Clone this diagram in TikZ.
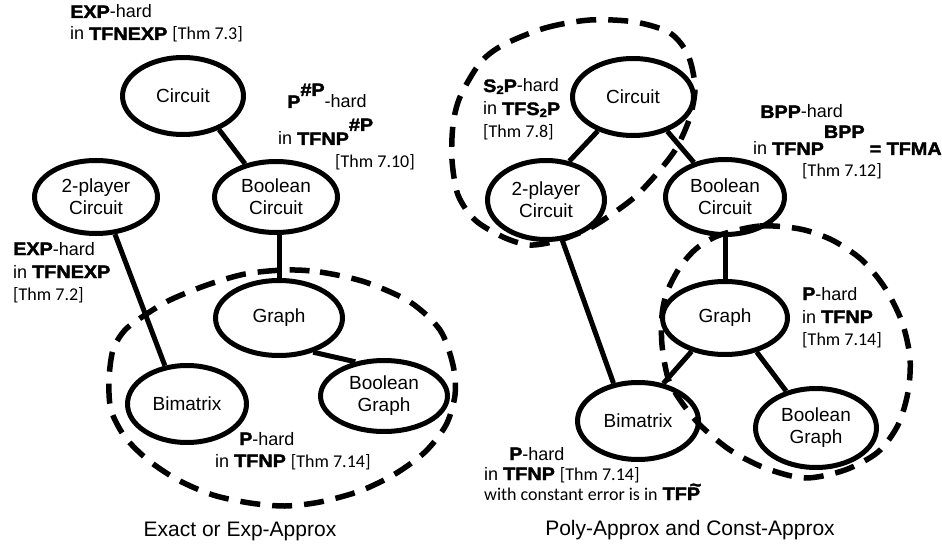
\documentclass[tikz,border=0pt]{standalone}
\usepackage{fontspec}
\usepackage{graphicx}
\setmainfont{Liberation Sans}
\newfontfamily\heavyfont{Liberation Sans}[BoldFeatures={FakeBold=2}]
\newfontfamily\thmfont{Carlito}
\usetikzlibrary{shapes.geometric}
% heavy class names and theorem references
\newcommand\hv[1]{\scalebox{1.1}[1]{\heavyfont\bfseries #1}}
\newcommand\thmtag[1]{{\thmfont #1}}
\tikzset{
  state/.style={draw, ellipse, line width=5pt, inner sep=0pt, align=center,
    font=\fontsize{19}{22}\selectfont},
  link/.style={line width=5pt},
  region/.style={line width=5.5pt, dash pattern=on 20pt off 12pt},
  note/.style={anchor=base west, inner sep=0pt, font=\fontsize{18}{22}\selectfont},
  caption/.style={anchor=base, inner sep=0pt, font=\fontsize{21}{25}\selectfont}
}
\begin{document}
\begin{tikzpicture}[x=1pt,y=-1pt]
\useasboundingbox (0,0) rectangle (942,548);

% ---------- left diagram: Exact or Exp-Approx ----------
\node[state, minimum width=121pt, minimum height=77pt] (lc)  at (183,96)  {Circuit};
\node[state, minimum width=123pt, minimum height=73pt] (l2)  at (96,197)  {2-player\\Circuit};
\node[state, minimum width=123pt, minimum height=71pt] (lbc) at (276,197) {Boolean\\Circuit};
\node[state, minimum width=127pt, minimum height=75pt] (lg)  at (279,318) {Graph};
\node[state, minimum width=119pt, minimum height=77pt] (lb)  at (187,404) {Bimatrix};
\node[state, minimum width=127pt, minimum height=71pt] (lbg) at (384,396) {Boolean\\Graph};

\draw[link] (lc.-43) -- (lbc.133);
\draw[link] (l2.-63) -- (lb.120);
\draw[link] (lg.north) -- (lg.north |- lbc.south);
\draw[link] (lg.-45) -- (lbg.130);

\draw[region] plot[smooth cycle] coordinates {
  (285,270) (320,272) (365,282) (410,302) (440,330) (453,365) (455,395)
  (446,425) (425,452) (395,474) (360,491) (320,502) (285,506) (250,503)
  (213,495) (178,480) (148,460) (125,437) (111,410) (109,380) (113,350)
  (125,330) (145,315) (170,300) (207,285) (245,274)};

\node[note] (a1) at (70,18) {\hv{EXP}-hard};
\node[note] (a2) at (70,40) {in \hv{TFNEXP} \thmtag{[Thm 7.3]}};

\node[note] (b1) at (287,108) {\hv{P}\raisebox{12pt}{\hv{\#P}}-hard};
\node[note] (b2) at (278,145) {in \hv{TFNP}\raisebox{14pt}{\hv{\#P}}};
\node[note] (b3) at (335,168) {\thmtag{[Thm 7.10]}};

\node[note] (c1) at (13,255) {\hv{EXP}-hard};
\node[note] (c2) at (13,278) {in \hv{TFNEXP}};
\node[note] (c3) at (13,300) {\thmtag{[Thm 7.2]}};

\node[note] (d1) at (239,445) {\hv{P}-hard};
\node[note] (d2) at (215,467) {in \hv{TFNP} \thmtag{[Thm 7.14]}};

\node[caption] (cap1) at (240,536) {Exact or Exp-Approx};

% ---------- right diagram: Poly-Approx and Const-Approx ----------
\node[state, minimum width=121pt, minimum height=77pt] (rc)  at (633,97)  {Circuit};
\node[state, minimum width=117pt, minimum height=79pt] (r2)  at (546,200) {2-player\\Circuit};
\node[state, minimum width=119pt, minimum height=75pt] (rbc) at (725,197) {Boolean\\Circuit};
\node[state, minimum width=125pt, minimum height=73pt] (rg)  at (725,318) {Graph};
\node[state, minimum width=121pt, minimum height=77pt] (rb)  at (638,421) {Bimatrix};
\node[state, minimum width=121pt, minimum height=79pt] (rbg) at (816,428) {Boolean\\Graph};

\draw[link] (rc.-136) -- (r2.59);
\draw[link] (rc.-45) -- (rbc.132);
\draw[link] (r2.-68) -- (rb.123);
\draw[link] (rg.north) -- (rg.north |- rbc.south);
\draw[link] (rg.-135) -- (rb.56);
\draw[link] (rg.-47) -- (rbg.129);

\draw[region] plot[smooth cycle] coordinates {
  (503,45) (545,28) (590,20) (635,22) (670,33) (688,55) (695,87) (690,117)
  (677,147) (660,170) (637,195) (615,212) (590,228) (560,240) (530,245)
  (503,237) (475,220) (458,195) (452,160) (453,125) (460,97) (480,63)};

\draw[region] plot[smooth cycle] coordinates {
  (720,235) (760,226) (800,229) (832,240) (862,260) (885,288) (902,322)
  (910,358) (908,392) (898,425) (878,452) (845,470) (805,478) (765,468)
  (730,450) (700,425) (680,400) (668,378) (662,345) (662,315) (667,292)
  (680,267) (697,248)};

\node[note] (e1) at (483,92)  {\hv{S}\raisebox{-2pt}{\hv{\fontsize{12}{12}\selectfont 2}}\hv{P}-hard};
\node[note] (e2) at (483,115) {in \hv{TFS}\raisebox{-2pt}{\hv{\fontsize{12}{12}\selectfont 2}}\hv{P}};
\node[note] (e3) at (483,138) {\thmtag{[Thm 7.8]}};

\node[note] (f1) at (760,118) {\hv{BPP}-hard};
\node[note] (f2) at (753,155) {in \hv{TFNP}\raisebox{17pt}{\hv{BPP}} \hv{= TFMA}};
\node[note] (f3) at (802,177) {\thmtag{[Thm 7.12]}};

\node[note] (g1) at (802,300) {\hv{P}-hard};
\node[note] (g2) at (802,323) {in \hv{TFNP}};
\node[note] (g3) at (802,345) {\thmtag{[Thm 7.14]}};

\node[note] (h1) at (509,460) {\hv{P}-hard};
\node[note] (h2) at (484,480) {in \hv{TFNP} \thmtag{[Thm 7.14]}};
\node[note] (h3) at (484,500) {\thmtag{with constant error is in} \hv{TF}\makebox[0pt][l]{\raisebox{9pt}{\hspace{3pt}\hv{\textasciitilde}}}\hv{P}};

\node[caption] (cap2) at (690,535) {Poly-Approx and Const-Approx};
\end{tikzpicture}
\end{document}
